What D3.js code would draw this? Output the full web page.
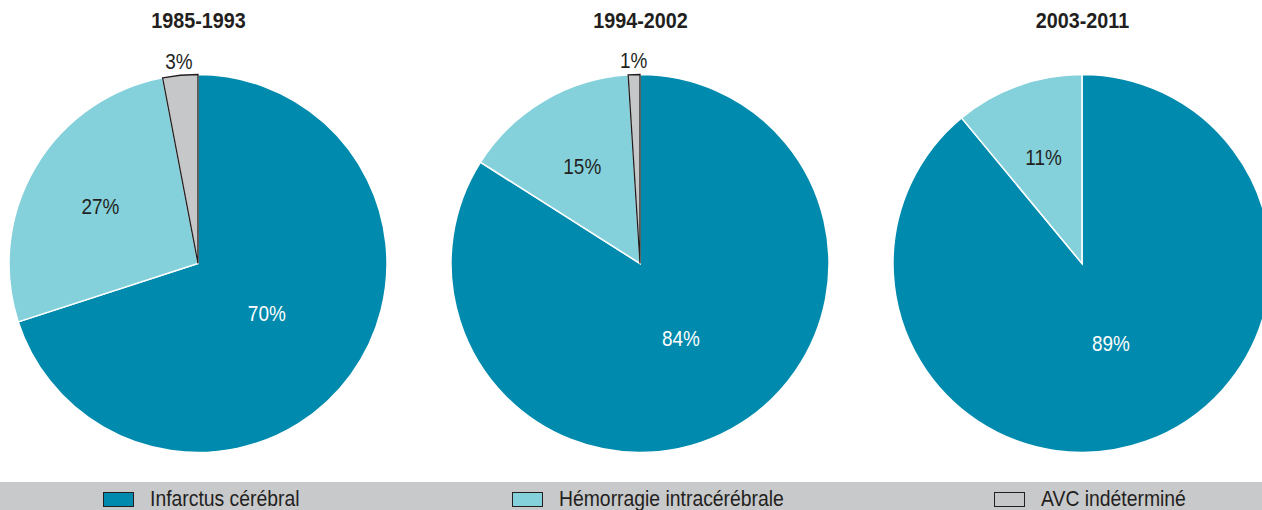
<html>
<head>
<meta charset="utf-8">
<script src="https://cdn.jsdelivr.net/npm/d3@7"></script>
<style>
body, html {
  margin: 0;
  padding: 0;
  background: #fff;
  overflow: hidden;
}
text {
  font-family: "Liberation Sans", Arial, sans-serif;
  fill: #231f20;
}
</style>
</head>
<body>
<div id="chart"></div>
<script>

// data
var periods = ["1985-1993", "1994-2002", "2003-2011"]
var categories = ["Infarctus cérébral", "Hémorragie intracérébrale", "AVC indéterminé"]
var infarctus = [70, 84, 89]
var hemorragie = [27, 15, 11]
var indetermine = [3, 1, 0]

var colors = ["#008aad", "#84d1dc", "#c6c7c9"]
var labelColors = ["#ffffff", "#231f20", "#231f20"]

var width = 1262, height = 510
var radius = 189
var legendX = [103, 512, 994]
// the original type is a condensed grotesque, squeeze Liberation Sans a bit
var squeeze = 0.88

var svg = d3.select("#chart").append("svg")
  .attr("width", width)
  .attr("height", height)

var cx = d3.scalePoint().domain(periods).range([198, 1082])

var pie = d3.pie().sort(null).value(function(d) { return d.value })
var arc = d3.arc().innerRadius(0).outerRadius(radius)

periods.forEach(function(p, i) {
  var rows = [
    {cat: 0, value: infarctus[i]},
    {cat: 1, value: hemorragie[i]},
    {cat: 2, value: indetermine[i]}
  ]
  var g = svg.append("g").attr("transform", "translate(" + cx(p) + ",263.5)")

  var arcs = pie(rows).filter(function(d) { return d.data.value > 0 })

  g.selectAll(".slice")
    .data(arcs)
    .enter().append("path")
      .attr("class", "slice")
      .attr("d", arc)
      .style("fill", function(d) { return colors[d.data.cat] })
      .style("stroke", function(d) { return d.data.cat == 2 ? "#231f20" : "#ffffff" })
      .style("stroke-width", function(d) { return d.data.cat == 2 ? 1.3 : 1.5 })
      .style("stroke-linejoin", "miter")

  g.selectAll(".lbl")
    .data(arcs)
    .enter().append("text")
      .attr("class", "lbl")
      .attr("transform", function(d) {
        var r
        if (d.data.value < 5) r = radius + 14
        else if (d.data.value > 50) r = radius * 0.45
        else r = radius * 0.6
        var a = (d.startAngle + d.endAngle) / 2
        return "translate(" + (r * Math.sin(a)) + "," + (-r * Math.cos(a)) + ") scale(" + squeeze + ",1)"
      })
      .attr("text-anchor", "middle")
      .attr("dy", "0.36em")
      .style("font-size", "21.5px")
      .style("fill", function(d) { return d.data.value < 5 ? "#231f20" : labelColors[d.data.cat] })
      .text(function(d) { return d.data.value + "%" })

  svg.append("text")
    .attr("transform", "translate(" + (cx(p) + 0.5) + ",28) scale(0.92,1)")
    .attr("text-anchor", "middle")
    .style("font-size", "21.5px")
    .style("font-weight", "bold")
    .text(p)
})

// legend bar
svg.append("rect")
  .attr("x", 0).attr("y", 482)
  .attr("width", width).attr("height", 28)
  .style("fill", "#c8c9cb")

var leg = svg.selectAll(".leg")
  .data(categories)
  .enter().append("g")
    .attr("class", "leg")
    .attr("transform", function(d, i) { return "translate(" + legendX[i] + ",0)" })

leg.append("rect")
  .attr("x", 0.5).attr("y", 492.5)
  .attr("width", 30).attr("height", 14)
  .style("fill", function(d, i) { return colors[i] })
  .style("stroke", "#231f20")
  .style("stroke-width", 1)

leg.append("text")
  .attr("transform", "translate(47,505.5) scale(" + squeeze + ",1)")
  .style("font-size", "22px")
  .text(function(d) { return d })

</script>
</body>
</html>
